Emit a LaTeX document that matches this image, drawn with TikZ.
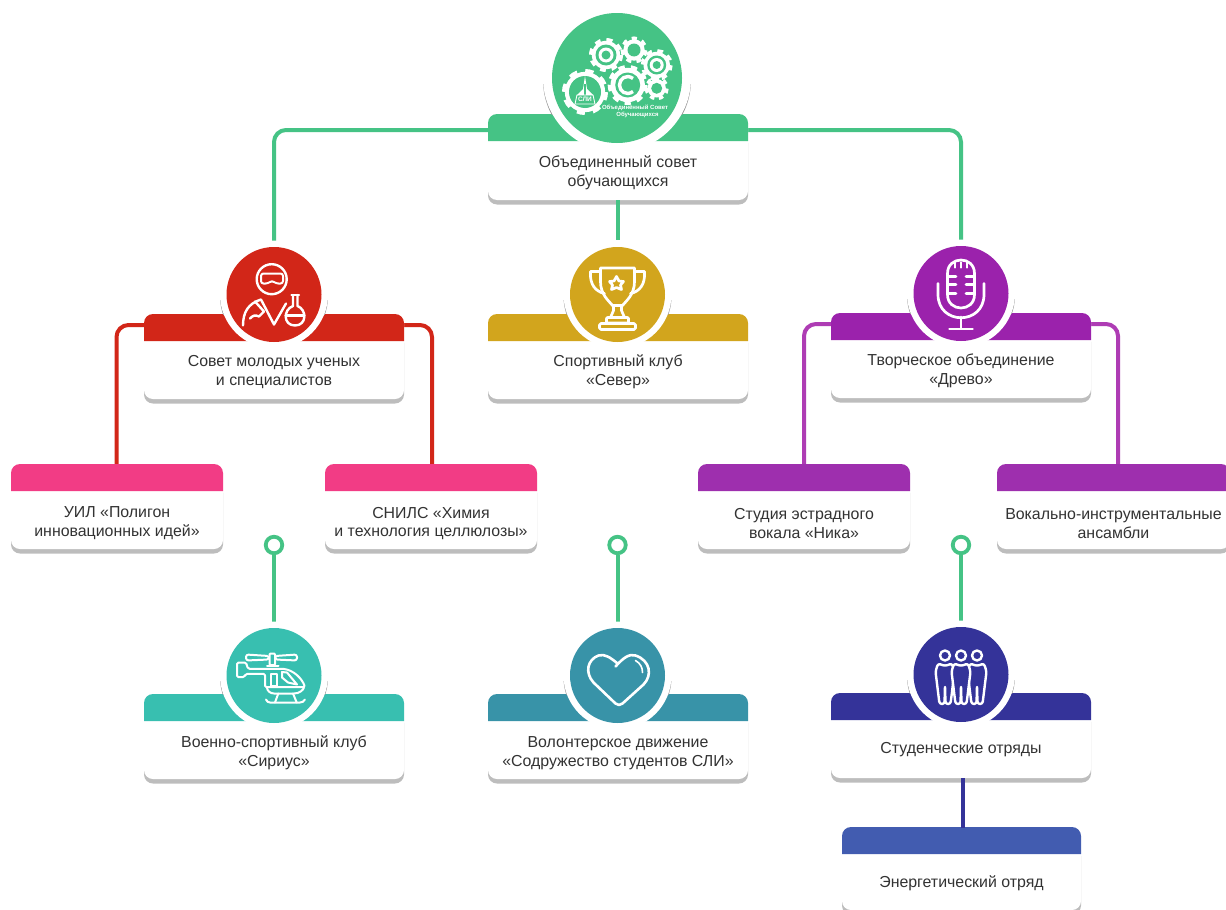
\documentclass[tikz,border=0pt]{standalone}
\usepackage{fontspec}
\setmainfont{Liberation Sans}
\usetikzlibrary{backgrounds,calc}
\definecolor{cgreen}{HTML}{45C385}
\definecolor{cred}{HTML}{D22618}
\definecolor{cgold}{HTML}{D2A51D}
\definecolor{cpurple}{HTML}{9B22AC}
\definecolor{cpurplel}{HTML}{AE3CB4}
\definecolor{cpurplec}{HTML}{9E2FAE}
\definecolor{cpink}{HTML}{F23C85}
\definecolor{cteal}{HTML}{38BFB0}
\definecolor{cblueteal}{HTML}{3893A8}
\definecolor{cnavy}{HTML}{343399}
\definecolor{cblue}{HTML}{425CB0}
\definecolor{cshadow}{HTML}{BDBDBD}
\definecolor{ctext}{HTML}{333333}
\tikzset{
  cardnode/.style={rectangle,fill=white,rounded corners=9pt,inner sep=0pt,outer sep=0pt},
  cardtext/.style={align=center,text=ctext,inner sep=0pt,font=\fontsize{15.9}{18.9}\selectfont},
  conn/.style={line width=4pt,rounded corners=12pt},
  dotnode/.style={circle,draw=cgreen,line width=3.8pt,fill=white,minimum size=16.5pt,inner sep=0pt},
  iconnode/.style={circle,inner sep=0pt,outer sep=0pt},
  ico/.style={draw=white,line width=2.4pt,line join=round,line cap=round},
}
% [text shift] name x1 y1 x2 y2 colour text
\newcommand{\cardbox}[8][2]{%
  \fill[cshadow,rounded corners=9pt] (#3,#4+20) rectangle (#5,#6+4.5);
  \node[cardnode,minimum width={#5-#3},minimum height={#6-#4}] (#2) at ({(#3+#5)/2},{(#4+#6)/2}) {};
  \fill[#7] (#3,#4+27) [rounded corners=9pt] -- (#3,#4) -- (#5,#4) [sharp corners] -- (#5,#4+27) -- cycle;
  \node[cardtext] (#2-t) at ({(#3+#5)/2},{(#4+27+#6)/2+#1}) {#8};
}
% name x y r ringr colour bandtop
\newcommand{\iconcirc}[7]{%
  \begin{scope}
    \clip (#2-#5-6,#3+6) rectangle (#2+#5+6,#7);
    \fill[black!40] (#2,#3+2) circle[radius=#5];
  \end{scope}
  \fill[white] (#2,#3) circle[radius=#5];
  \node[iconnode,fill=#6,minimum size={2*#4}] (#1) at (#2,#3) {};
}
% cx cy body r, teeth, hole r
\newcommand{\gearshape}[5]{%
  \pgfmathsetmacro{\gdash}{3.14159*#3/#4}
  \draw[white,line width=6pt,dash pattern=on \gdash pt off \gdash pt] (#1,#2) circle[radius=#3];
  \fill[white] (#1,#2) circle[radius=#3+0.2];
  \fill[cgreen] (#1,#2) circle[radius=#5];
}
\begin{document}
\begin{tikzpicture}[x=1pt,y=-1pt]
\useasboundingbox (0,0) rectangle (1226,910);
% cards
\cardbox{main}{488}{114}{748}{200}{cgreen}{Объединенный совет\\обучающихся}
\cardbox{sovet}{144}{314}{404}{399}{cred}{Совет молодых ученых\\и специалистов}
\cardbox{sport}{488}{314}{748}{399}{cgold}{Спортивный клуб\\«Север»}
\cardbox{tvor}{831}{313}{1091}{398}{cpurple}{Творческое объединение\\«Древо»}
\cardbox[3.5]{uil}{11}{464}{223}{549}{cpink}{УИЛ «Полигон\\инновационных идей»}
\cardbox[3.5]{snils}{325}{464}{537}{549}{cpink}{СНИЛС «Химия\\и технология целлюлозы»}
\cardbox[3.5]{nika}{698}{464}{910}{549}{cpurplec}{Студия эстрадного\\вокала «Ника»}
\cardbox[3.5]{vocal}{997}{464}{1230}{549}{cpurplec}{Вокально-инструментальные\\ансамбли}
\cardbox[3]{sirius}{144}{694}{404}{779}{cteal}{Военно-спортивный клуб\\«Сириус»}
\cardbox[3]{volunt}{488}{694}{748}{779}{cblueteal}{Волонтерское движение\\«Содружество студентов СЛИ»}
\cardbox[1]{stud}{831}{693}{1091}{778}{cnavy}{Студенческие отряды}
\cardbox[1]{energ}{842}{827}{1081}{910}{cblue}{Энергетический отряд}
% icon discs
\iconcirc{main-i}{617}{78}{65}{74}{cgreen}{114}
\iconcirc{sovet-i}{274}{294.5}{47.5}{54}{cred}{314}
\iconcirc{sport-i}{617.5}{294.5}{47.5}{54}{cgold}{314}
\iconcirc{tvor-i}{961}{293.5}{47.5}{54}{cpurple}{313}
\iconcirc{sirius-i}{274}{675.5}{47.5}{54}{cteal}{694}
\iconcirc{volunt-i}{617.5}{675.5}{47.5}{54}{cblueteal}{694}
\iconcirc{stud-i}{961}{674.5}{47.5}{54}{cnavy}{693}
% free ring markers
\node[dotnode] (dot1) at (274,545) {};
\node[dotnode] (dot2) at (617.5,545) {};
\node[dotnode] (dot3) at (961,545) {};
% connectors
\coordinate (mainL) at ($(main.north west)+(1,16)$);
\coordinate (mainR) at ($(main.north east)+(-1,16)$);
\coordinate (sovetL) at ($(sovet.north west)+(1,11)$);
\coordinate (sovetR) at ($(sovet.north east)+(-1,11)$);
\coordinate (tvorL) at ($(tvor.north west)+(1,11)$);
\coordinate (tvorR) at ($(tvor.north east)+(-1,11)$);
\coordinate (uilTop) at ($(uil.north)+(-0.5,1)$);
\coordinate (snilsTop) at ($(snils.north)+(1,1)$);
\coordinate (nikaTop) at ($(nika.north)+(0,1)$);
\coordinate (vocalTop) at ($(vocal.north)+(4.5,1)$);
\begin{pgfonlayer}{background}
  \fill[white] (0,0) rectangle (1226,910);
  \draw[conn,cgreen] (mainL) -| (sovet-i.center);
  \draw[conn,cgreen] (mainR) -| (tvor-i.center);
  \draw[conn,cred] (sovetL) -| (uilTop);
  \draw[conn,cred] (sovetR) -| (snilsTop);
  \draw[conn,cpurplel] (tvorL) -| (nikaTop);
  \draw[conn,cpurplel] (tvorR) -| (vocalTop);
  \draw[conn,cgreen] (dot1) -- (sirius-i);
  \draw[conn,cgreen] (dot2) -- (volunt-i);
  \draw[conn,cgreen] (dot3) -- (stud-i);
\end{pgfonlayer}
\coordinate (mainS) at ($(main.south)+(0,0)$);
\coordinate (sportN) at ($(sport-i.north)+(0.5,-7)$);
\coordinate (studS) at ($(stud.south)+(2,0)$);
\coordinate (energN) at ($(energ.north)+(1.5,1)$);
\draw[line width=4pt,cgreen] (mainS) -- (sportN);
\draw[line width=4pt,cnavy] (studS) -- (energN);

% ---- logo
\gearshape{606}{55}{14}{8}{10.5}
\fill[white] (606,55) circle[radius=7.5];
\fill[cgreen] (606,55) circle[radius=4.5];
\gearshape{634}{50}{10.5}{7}{6.5}
\gearshape{656.7}{65}{13}{8}{9.5}
\fill[white] (656.7,65) circle[radius=7];
\fill[cgreen] (656.7,65) circle[radius=4];
\gearshape{656.7}{88.3}{9}{7}{5.5}
\gearshape{627.7}{85}{17}{9}{12.5}
\draw[white,line width=3.4pt] (633,78.5) .. controls (626,73.5) and (619.5,79) .. (619.5,85) .. controls (619.5,91) and (626,96.5) .. (633,91.5);
\gearshape{585}{92}{20}{8}{16}
% tower
\fill[white] (585,76) -- (587,89) -- (593,95) -- (577,95) -- (583,89) -- cycle;
\fill[cgreen] (584.3,84) rectangle (585.7,95);
\draw[white,line width=0.9pt] (577,95) -- (575,104) -- (595,104) -- (593,95) -- cycle;
\node[white,inner sep=0pt,font=\fontsize{6.5}{6.5}\selectfont\bfseries] (logoname) at (585,99.7) {СЛИ};
\node[white,inner sep=0pt,align=center,font=\fontsize{6}{5.2}\selectfont\bfseries] (logotext) at (635,111.5) {Объединённый Совет\\\hspace*{5pt}Обучающихся};

% ---- scientist
\begin{scope}[shift={(sovet-i.center)}]
  \draw[ico] (-2.3,-15.3) circle[radius=15];
  \draw[ico,line width=2pt,rounded corners=2.5pt] (-13,-21) -- (9,-21) -- (9,-11) -- (2,-11) -- (-2,-14) -- (-6,-11) -- (-13,-11) -- cycle;
  \draw[ico] (-31,31) .. controls (-31,18) and (-26,9) .. (-13,5) -- (0,30) -- (12,9);
  \draw[ico] (-19,7) -- (-10,17) -- (-15,22) .. controls (-19,20) and (-21,21) .. (-24,24);
  \draw[ico] (17.5,0.5) -- (25,0.5);
  \draw[ico] (19,0.5) -- (19,11.5) .. controls (9,15) and (9,31) .. (21,31) .. controls (33,31) and (33,15) .. (23.5,11.5) -- (23.5,0.5);
  \draw[ico] (11.5,21) -- (30.5,21);
\end{scope}
% ---- trophy
\begin{scope}[shift={(sport-i.center)}]
  \draw[ico,line width=2.7pt] (-17,-26.5) -- (17,-26.5) -- (17,-13) .. controls (17,0) and (9,6) .. (5,11) -- (-5,11) .. controls (-9,6) and (-17,0) .. (-17,-13) -- cycle;
  \draw[ico,line width=2.7pt] (-17,-23) -- (-27,-23) .. controls (-28,-10) and (-22,-3) .. (-13,-1);
  \draw[ico,line width=2.7pt] (17,-23) -- (27,-23) .. controls (28,-10) and (22,-3) .. (13,-1);
  \draw[ico,line width=2.7pt] (-4,11) -- (-4,16) -- (-7,23);
  \draw[ico,line width=2.7pt] (4,11) -- (4,16) -- (7,23);
  \draw[ico,line width=2.7pt,rounded corners=1pt] (-11,23) rectangle (11,28.5);
  \draw[ico,line width=2.7pt,rounded corners=1.5pt] (-18,29) rectangle (18,35);
  \draw[ico,line width=2.7pt] (-1,-18) -- (1.5,-13.5) -- (6,-13) -- (3,-9.5) -- (4,-5) -- (-1,-7) -- (-6,-5) -- (-5,-9.5) -- (-8,-13) -- (-3.5,-13.5) -- cycle;
\end{scope}
% ---- microphone
\begin{scope}[shift={(tvor-i.center)}]
  \draw[ico,line width=2.7pt] (-13.5,-20) .. controls (-13.5,-38) and (13.5,-38) .. (13.5,-20) -- (13.5,1) .. controls (13.5,19) and (-13.5,19) .. (-13.5,1) -- cycle;
  \draw[ico,line width=2.7pt] (-23,-10) -- (-23,1) .. controls (-23,32) and (23,32) .. (23,1) -- (23,-10);
  \draw[ico,line width=2.7pt] (0,23.5) -- (0,35);
  \draw[ico,line width=2.7pt] (-11.5,35.5) -- (11.5,35.5);
  \foreach \yy in {-17,-8.7,-0.3}{
    \draw[ico,line width=2.7pt] (-13.5,\yy) -- (-5,\yy);
    \draw[ico,line width=2.7pt] (13.5,\yy) -- (5,\yy);
  }
  \foreach \xx in {-6,0,6}{\draw[ico,line width=2.2pt] (\xx,-31) -- (\xx,-26);}
\end{scope}
% ---- helicopter
\begin{scope}[shift={(sirius-i.center)}]
  \draw[ico,line width=2pt,rounded corners=2.5pt] (-28,-21) -- (-5,-19.5) -- (-5,-16) -- (-28,-15) -- cycle;
  \draw[ico,line width=2pt,rounded corners=2.5pt] (23,-21) -- (1,-19.5) -- (1,-16) -- (23,-15) -- cycle;
  \draw[ico,line width=2pt,rounded corners=1pt,fill=cteal] (-4.5,-22) rectangle (1,-10.5);
  \draw[ico,line width=2pt] (-7,-9.5) -- (4.5,-9.5);
  \draw[ico,line width=2pt,rounded corners=1.5pt] (-37,-13) -- (-28,-13) -- (-26,-6.7) -- (9,-6.7) .. controls (20,-5) and (28,3) .. (31,11.7) -- (-9,11.7) -- (-9,-1.7) -- (-28,-1.7) -- (-30,1.7) -- (-37,1.7) -- cycle;
  \draw[ico,line width=2pt] (-3.3,-1.7) rectangle (3.3,10);
  \draw[ico,line width=2pt] (8,-3.5) -- (13,-3) -- (23,9) -- (14,7) -- (8,2) -- cycle;
  \draw[ico,line width=2pt] (-7,12) .. controls (-7,15) and (-4,18) .. (0,18) -- (20,18) .. controls (25,18) and (29,15) .. (30,12);
  \draw[ico,line width=2pt] (4.3,18) -- (1,27);
  \draw[ico,line width=2pt] (19,18) -- (22.7,27);
  \draw[ico,line width=2pt] (-8,24) .. controls (-7,26) and (-6,27) .. (-4,27) -- (26,27) .. controls (28,27) and (30,26) .. (31,24);
\end{scope}
% ---- heart
\begin{scope}[shift={(volunt-i.center)}]
  \draw[ico,line width=2.6pt] (-2,-9) .. controls (6,-18) and (12,-22) .. (18,-20) .. controls (33,-15) and (35,0) .. (26,9) -- (5,28) .. controls (3,30) and (0,30) .. (-2,28) -- (-24,7) .. controls (-33,-3) and (-30,-16) .. (-19,-20) .. controls (-13,-22) and (-7,-18) .. (0,-12);
  \draw[ico,line width=1.6pt] (18,-15) .. controls (23,-12) and (25,-8) .. (25,-3);
\end{scope}
% ---- people
\begin{scope}[shift={(stud-i.center)}]
  \foreach \xx in {-16,16,0}{
    \begin{scope}[xshift=\xx pt]
      \draw[ico] (0,-19) circle[radius=5];
      \draw[ico,fill=cnavy,rounded corners=2.5pt] (0,-8.5) -- (-7,-11) -- (-9.5,-3) -- (-5.5,29.5) -- (-0.5,29.5) -- (0,11) -- (0.5,29.5) -- (5.5,29.5) -- (9.5,-3) -- (7,-11) -- cycle;
    \end{scope}
  }
\end{scope}
\end{tikzpicture}
\end{document}
